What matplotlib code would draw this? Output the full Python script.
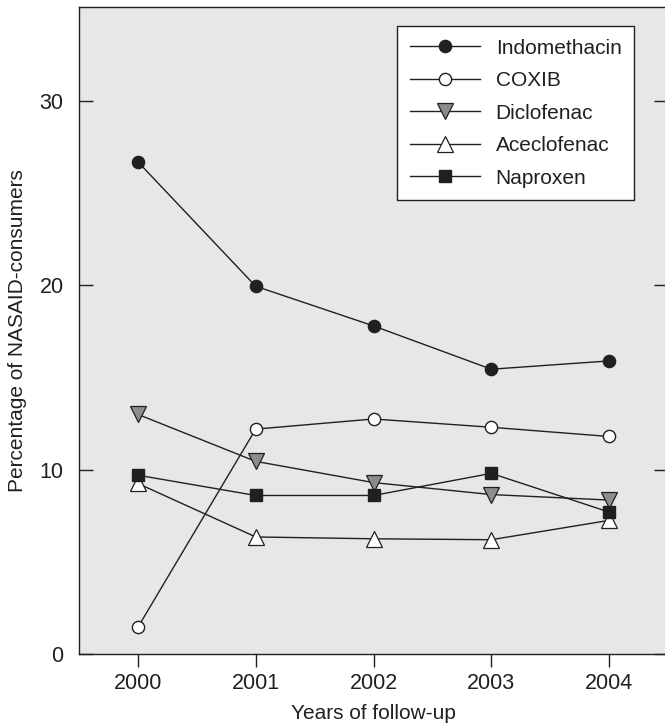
import matplotlib.pyplot as plt

plt.rcParams['font.family'] = ['Liberation Sans', 'DejaVu Sans']

years = [2000, 2001, 2002, 2003, 2004]
year_labels = ["2000", "2001", "2002", "2003", "2004"]

indomethacin = [26.7, 19.95, 17.8, 15.45, 15.9]
coxib = [1.45, 12.2, 12.75, 12.3, 11.8]
diclofenac = [13.0, 10.45, 9.3, 8.65, 8.35]
aceclofenac = [9.25, 6.35, 6.25, 6.2, 7.25]
naproxen = [9.7, 8.6, 8.6, 9.8, 7.7]

ink = "#231f20"

fig = plt.figure(figsize=(6.65, 7.27), dpi=100)
ax = fig.add_axes([79/665, 1 - 654/727, 589/665, 647/727])
ax.set_facecolor("#e6e7e7")

lw = 1.0
ax.plot(years, indomethacin, color=ink, lw=lw, marker="o", ms=8.8,
        mfc=ink, mec=ink, label="Indomethacin", zorder=3)
ax.plot(years, coxib, color=ink, lw=lw, marker="o", ms=8.8,
        mfc="white", mec=ink, mew=1.0, label="COXIB", zorder=3)
ax.plot(years, diclofenac, color=ink, lw=lw, marker="v", ms=11.5,
        mfc="#8c8c8e", mec=ink, mew=0.9, label="Diclofenac", zorder=3)
ax.plot(years, aceclofenac, color=ink, lw=lw, marker="^", ms=11.5,
        mfc="white", mec=ink, mew=0.9, label="Aceclofenac", zorder=3)
ax.plot(years, naproxen, color=ink, lw=lw, marker="s", ms=8.4,
        mfc=ink, mec=ink, label="Naproxen", zorder=3)

ax.set_xlim(1999.5, 2004.5)
ax.set_ylim(0, 35.1)
ax.set_xticks(years)
ax.set_xticklabels(year_labels)
ax.set_yticks([0, 10, 20, 30])

for s in ax.spines.values():
    s.set_color(ink)
    s.set_linewidth(1.0)

ax.tick_params(axis="x", direction="out", length=9.6, width=1.0, color=ink,
               labelsize=15.5, labelcolor=ink, pad=4)
ax.tick_params(axis="y", direction="in", length=10, width=1.0, color=ink,
               labelsize=15.5, labelcolor=ink, pad=11, right=True)

ax.set_xlabel("Years of follow-up", fontsize=15, color=ink, labelpad=7)
ax.set_ylabel("Percentage of NASAID-consumers", fontsize=15, color=ink, labelpad=9)

leg = ax.legend(loc="upper right", bbox_to_anchor=(555/589, 628/647),
                borderaxespad=0, fontsize=15, handlelength=3.36,
                handletextpad=0.77, labelspacing=0.65, borderpad=0.6,
                fancybox=False, framealpha=1, edgecolor=ink)
leg.get_frame().set_linewidth(1.0)
for t in leg.get_texts():
    t.set_color(ink)

fig.savefig("out.png", dpi=100)
